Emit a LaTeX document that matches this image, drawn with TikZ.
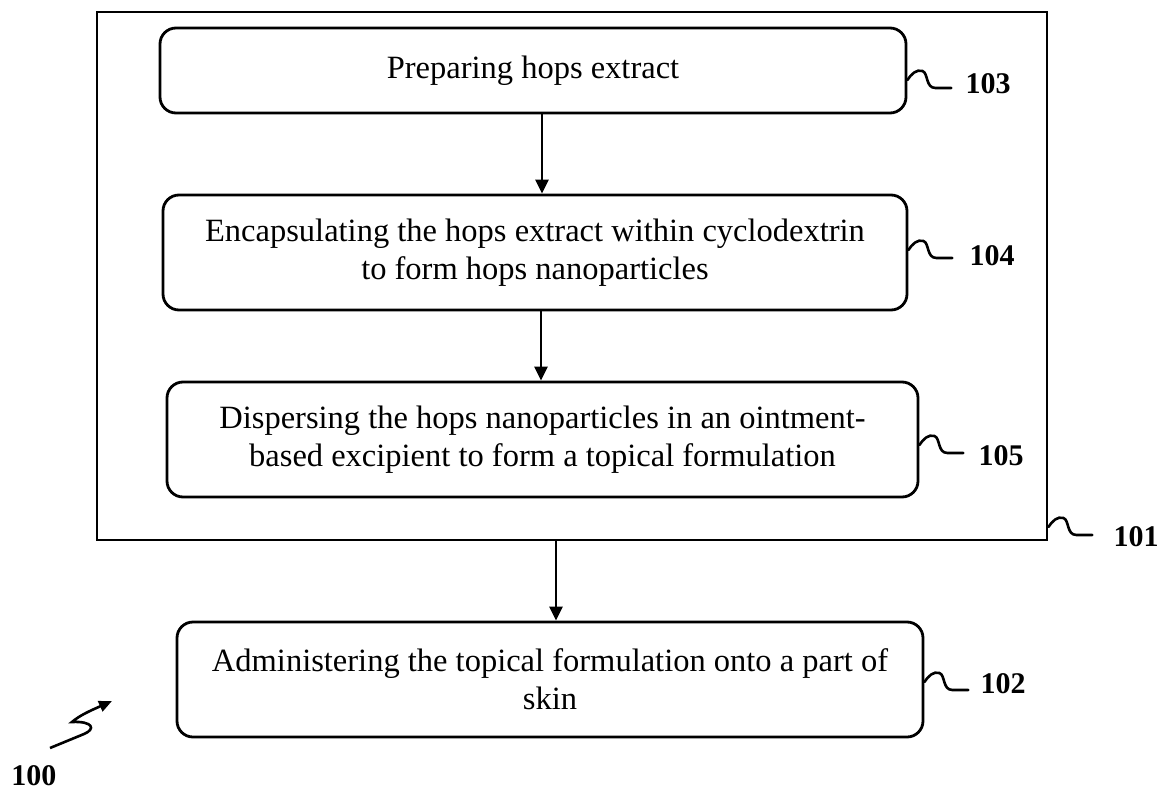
\documentclass[tikz,border=0pt]{standalone}
\usepackage{fontspec}
\setmainfont{Liberation Serif}
\usetikzlibrary{arrows.meta}
\begin{document}
\begin{tikzpicture}[x=1pt,y=-1pt,
  stepbox/.style={draw,line width=2.8pt,rounded corners=16pt,align=center,inner sep=0pt,
    font=\fontsize{32.5}{38}\selectfont},
  outerbox/.style={draw,line width=2.8pt,inner sep=0pt},
  flow/.style={line width=2.4pt,-{Triangle[length=14pt,width=13pt]}},
  sq/.style={line width=2.6pt,line cap=round},
  lab/.style={font=\fontsize{30}{30}\selectfont\bfseries,inner sep=0pt}]
\useasboundingbox (0,0) rectangle (1159,792);
\node[outerbox,minimum width=950pt,minimum height=528pt] (b101) at (572,276) {};
\node[stepbox,minimum width=746pt,minimum height=85pt] (b103) at (533,70.5) {Preparing hops extract};
\node[stepbox,minimum width=744pt,minimum height=115pt] (b104) at (535,252.5) {Encapsulating the hops extract within cyclodextrin\\to form hops nanoparticles};
\node[stepbox,minimum width=751pt,minimum height=115pt] (b105) at (542.5,439.5) {Dispersing the hops nanoparticles in an ointment-\\based excipient to form a topical formulation};
\node[stepbox,minimum width=746pt,minimum height=115pt] (b102) at (550,679.5) {Administering the topical formulation onto a part of\\skin};
% arrows
\draw[flow] (b103.south -| 542,0) -- (b104.north -| 542,0);
\draw[flow] (b104.south -| 541,0) -- (b105.north -| 541,0);
\draw[flow] (b101.south -| 556,0) -- (b102.north -| 556,0);
% labels
\node[lab] (l103) at (988,84) {103};
\node[lab] (l104) at (992,256) {104};
\node[lab] (l105) at (1001,456) {105};
\node[lab] (l102) at (1003,684) {102};
\node[lab] (l101) at (1136,537) {101};
\node[lab] (l100) at (34,776) {100};
% squiggles
\coordinate (s103) at (b103.east |- 0,80);
\coordinate (s104) at (b104.east |- 0,250);
\coordinate (s105) at (b105.east |- 0,445);
\coordinate (s102) at (b102.east |- 0,682);
\coordinate (s101) at (b101.east |- 0,527);
\foreach \s in {s103,s104,s105,s102,s101}{
  \begin{scope}[shift={(\s)}]
    \draw[sq] (0,0) .. controls (4,-6) and (9,-11) .. (15,-9) .. controls (21,-7) and (18,8) .. (28,8) -- (44,8);
  \end{scope}
}
% 100 arrow
\coordinate (a100s) at (50,748);
\coordinate (a100e) at (112,701);
\draw[line width=2.6pt,-{Triangle[length=13pt,width=11pt]}] (a100s) -- (84,734) .. controls (96,729) and (93,721) .. (72,722) .. controls (80,715) and (92,710) .. (a100e);
\end{tikzpicture}
\end{document}
